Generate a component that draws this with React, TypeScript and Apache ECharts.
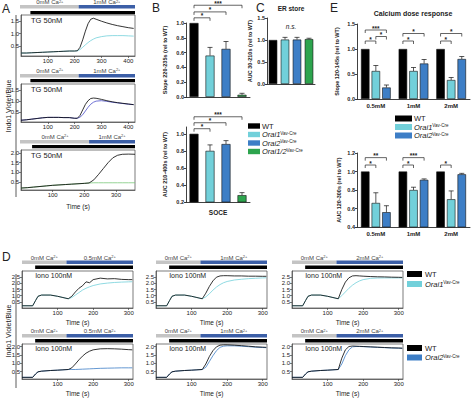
import React, { useEffect, useRef } from "react";
import * as echarts from "echarts";

const FONT = "'Liberation Sans', Arial, Helvetica, sans-serif";
const INK = "#222222";
const COL_WT = "#000000";
const COL_O1 = "#72d0da";
const COL_O2 = "#3d7ec6";
const COL_O12 = "#2da44e";
const COL_O2_TRACE_A = "#4b4fc9";
const COL_O12_TRACE = "#7cc97c";
const COL_CA0 = "#c4c4c4";
const COL_CA1 = "#3c5fa7";

// ---------- Panel A traces ----------
const tA = [0, 20, 40, 60, 80, 100, 120, 140, 160, 180, 200, 210, 220, 230, 240, 250, 260, 270, 280, 300, 320, 340, 360, 380, 400, 420];
const a1WT = [0.22, 0.22, 0.23, 0.24, 0.25, 0.26, 0.27, 0.28, 0.29, 0.3, 0.3, 0.31, 0.45, 0.75, 1.1, 1.4, 1.58, 1.62, 1.58, 1.5, 1.43, 1.37, 1.32, 1.28, 1.24, 1.21];
const a1O1 = [0.22, 0.22, 0.23, 0.24, 0.25, 0.26, 0.27, 0.28, 0.29, 0.3, 0.3, 0.31, 0.36, 0.45, 0.55, 0.64, 0.72, 0.78, 0.83, 0.88, 0.91, 0.92, 0.92, 0.92, 0.91, 0.9];
const a2WT = [0.13, 0.15, 0.18, 0.21, 0.24, 0.26, 0.26, 0.26, 0.25, 0.25, 0.22, 0.22, 0.35, 0.6, 0.85, 1.02, 1.12, 1.14, 1.13, 1.08, 1.02, 0.97, 0.93, 0.9, 0.87, 0.84];
const a2O2 = [0.13, 0.15, 0.18, 0.21, 0.24, 0.26, 0.26, 0.26, 0.25, 0.25, 0.22, 0.22, 0.27, 0.38, 0.55, 0.72, 0.86, 0.95, 1.0, 1.02, 0.99, 0.95, 0.92, 0.89, 0.86, 0.84];
const tA3 = [0, 20, 40, 60, 80, 100, 120, 140, 160, 180, 200, 215, 230, 245, 260, 275, 290, 305, 320, 340, 360];
const a3WT = [0.2, 0.22, 0.25, 0.28, 0.31, 0.34, 0.36, 0.38, 0.4, 0.42, 0.44, 0.46, 0.62, 0.9, 1.2, 1.5, 1.75, 1.88, 1.93, 1.94, 1.93];
const a3O12 = [0.2, 0.22, 0.25, 0.28, 0.31, 0.34, 0.36, 0.38, 0.4, 0.42, 0.44, 0.46, 0.47, 0.47, 0.47, 0.47, 0.47, 0.47, 0.47, 0.47, 0.47];

// ---------- Panel D traces ----------
const tD = [0, 30, 38, 45, 55, 80, 100, 115, 130, 140, 150, 160, 170, 180, 190, 200, 220, 240, 260, 280, 300, 310];
const d11WT = [0.18, 0.18, 0.6, 0.95, 1.05, 1.05, 0.95, 0.85, 0.75, 0.95, 1.3, 1.6, 1.8, 2.12, 2.05, 2.3, 2.42, 2.36, 2.38, 2.32, 2.3, 2.3];
const d11O1 = [0.18, 0.18, 0.6, 0.95, 1.05, 1.05, 0.95, 0.85, 0.75, 0.85, 1.05, 1.25, 1.45, 1.6, 1.72, 1.82, 1.95, 2.02, 2.07, 2.1, 2.12, 2.13];
const d12WT = [0.18, 0.18, 0.6, 0.95, 1.05, 1.05, 0.95, 0.85, 0.75, 1.2, 1.75, 2.2, 2.5, 2.6, 2.62, 2.62, 2.6, 2.6, 2.58, 2.58, 2.57, 2.57];
const d12O1 = [0.18, 0.18, 0.6, 0.95, 1.05, 1.05, 0.95, 0.85, 0.75, 0.9, 1.15, 1.45, 1.7, 1.9, 2.05, 2.15, 2.27, 2.33, 2.38, 2.41, 2.44, 2.45];
const d13WT = [0.18, 0.18, 0.6, 0.95, 1.05, 1.05, 0.95, 0.85, 0.75, 1.5, 2.1, 2.45, 2.6, 2.62, 2.6, 2.58, 2.55, 2.53, 2.52, 2.5, 2.49, 2.48];
const d13O1 = [0.18, 0.18, 0.6, 0.95, 1.05, 1.05, 0.95, 0.85, 0.75, 1.0, 1.3, 1.6, 1.85, 2.05, 2.2, 2.3, 2.4, 2.43, 2.44, 2.44, 2.44, 2.44];
const d21WT = [0.15, 0.15, 0.35, 0.48, 0.52, 0.56, 0.58, 0.6, 0.62, 0.72, 0.95, 1.2, 1.42, 1.6, 1.72, 1.8, 1.86, 1.87, 1.86, 1.84, 1.81, 1.8];
const d21O2 = [0.15, 0.15, 0.35, 0.48, 0.52, 0.56, 0.58, 0.6, 0.62, 0.62, 0.62, 0.63, 0.64, 0.65, 0.66, 0.67, 0.69, 0.7, 0.71, 0.72, 0.72, 0.72];
const d22WT = [0.15, 0.15, 0.35, 0.48, 0.52, 0.56, 0.58, 0.6, 0.62, 0.95, 1.4, 1.75, 1.98, 2.08, 2.1, 2.1, 2.08, 2.05, 2.02, 1.98, 1.96, 1.95];
const d22O2 = [0.15, 0.15, 0.35, 0.48, 0.52, 0.56, 0.58, 0.6, 0.62, 0.75, 1.1, 1.45, 1.75, 1.95, 2.02, 2.04, 2.04, 2.02, 1.99, 1.96, 1.94, 1.93];
const d23WT = [0.15, 0.15, 0.35, 0.48, 0.52, 0.56, 0.58, 0.6, 0.62, 1.3, 1.8, 2.0, 2.03, 2.02, 2.01, 2.0, 1.98, 1.96, 1.94, 1.92, 1.91, 1.9];
const d23O2 = [0.15, 0.15, 0.35, 0.48, 0.52, 0.56, 0.58, 0.6, 0.62, 0.95, 1.45, 1.8, 1.98, 2.0, 2.0, 1.99, 1.97, 1.95, 1.93, 1.91, 1.9, 1.89];

// ---------- Bars ----------
const genotypes = ["WT", "Orai1", "Orai2", "Orai1/2"];
const b1Val = [1.0, 0.56, 0.65, 0.03];
const b1Err = [0, 0.11, 0.1, 0.02];
const b2Val = [1.0, 0.8, 0.88, 0.28];
const b2Err = [0, 0.07, 0.04, 0.03];
const cVal = [1.0, 1.01, 1.01, 1.02];
const cErr = [0, 0.05, 0.05, 0.02];

const doses = ["0.5mM", "1mM", "2mM"];
const e1WT = [1.0, 1.0, 1.0];
const e1O1 = [0.56, 0.56, 0.38];
const e1O1Err = [0.11, 0.07, 0.05];
const e1O2 = [0.23, 0.71, 0.8];
const e1O2Err = [0.05, 0.08, 0.05];
const e2WT = [1.0, 1.0, 1.0];
const e2O1 = [0.66, 0.8, 0.7];
const e2O1Err = [0.11, 0.03, 0.09];
const e2O2 = [0.56, 0.91, 0.97];
const e2O2Err = [0.07, 0.01, 0.01];

// significance brackets: [barA, barB, yValue, label]
const bracketsB1 = [[0, 1, 1.07, "*"], [0, 2, 1.15, "*"], [0, 3, 1.24, "***"]];
const bracketsB2 = [[0, 1, 1.06, "*"], [0, 2, 1.13, "*"], [0, 3, 1.2, "***"]];
// [dose, barA, barB, yValue, label]
const bracketsE1 = [[0, 0, 1, 1.16, "*"], [0, 1, 2, 1.25, "*"], [0, 0, 2, 1.38, "***"], [1, 0, 1, 1.16, "*"], [1, 0, 2, 1.31, "*"], [2, 0, 1, 1.16, "*"], [2, 0, 2, 1.31, "*"]];
const bracketsE2 = [[0, 0, 1, 1.07, "*"], [0, 0, 2, 1.15, "**"], [1, 0, 1, 1.07, "*"], [1, 0, 2, 1.15, "***"], [2, 0, 1, 1.07, "*"]];

// ticks
const aXTicks = [100, 200, 300, 400];
const a3XTicks = [100, 200, 300];
const dXTicks = [100, 200, 300];
const aYTicks = [0.5, 1.0, 1.5];
const a3YTicks = [0.5, 1.0, 1.5, 2.0];
const dRow1YTicks = [0.5, 1.0, 1.5, 2.0, 2.5];
const dRow2YTicks = [0.5, 1.0, 1.5, 2.0];

const caSwitchA = 215;
const tgStartA = 35;
const caSwitchD = 125;
const ionoStartD = 37;

const genoColors = [COL_WT, COL_O1, COL_O2, COL_O12];
const BW_E = 8.5;
const GAP_E = 2.1;
const eOff = [-(BW_E + GAP_E), 0, BW_E + GAP_E];

function pairs(t: number[], v: number[]) {
  return t.map((x, i) => [x, v[i]]);
}

const grids: any[] = [
  { left: 21, top: 15, width: 114, height: 41 }, // 0 A1
  { left: 21, top: 84, width: 114, height: 38 }, // 1 A2
  { left: 21, top: 150, width: 114, height: 40 }, // 2 A3
  { left: 186, top: 23, width: 64, height: 74 }, // 3 B1
  { left: 186, top: 127, width: 64, height: 75 }, // 4 B2
  { left: 267, top: 18, width: 48, height: 66 }, // 5 C
  { left: 357, top: 24, width: 113, height: 75 }, // 6 E1
  { left: 357, top: 153, width: 113, height: 74 }, // 7 E2
  { left: 22, top: 271, width: 111, height: 37 }, // 8 D11
  { left: 156, top: 271, width: 111, height: 37 }, // 9 D12
  { left: 292, top: 271, width: 111, height: 37 }, // 10 D13
  { left: 22, top: 344, width: 111, height: 37 }, // 11 D21
  { left: 156, top: 344, width: 111, height: 37 }, // 12 D22
  { left: 292, top: 344, width: 111, height: 37 }, // 13 D23
];
const traceGrids = [0, 1, 2, 8, 9, 10, 11, 12, 13];
const traceMax: Record<number, number> = { 0: 425, 1: 425, 2: 360, 8: 312, 9: 312, 10: 312, 11: 312, 12: 312, 13: 312 };

const lineStyleAxis = { color: "#444", width: 0.7 };

function traceX(gi: number, ticks: number[], name: string, nameGap: number) {
  return {
    type: "value", gridIndex: gi, min: 0, max: traceMax[gi],
    axisLine: { show: true, onZero: false, lineStyle: lineStyleAxis },
    axisTick: { show: true, length: 2, customValues: ticks, lineStyle: lineStyleAxis },
    axisLabel: { show: true, customValues: ticks, fontSize: 6, color: INK, fontFamily: FONT, margin: 1.5 },
    splitLine: { show: false },
    name, nameLocation: "middle", nameGap,
    nameTextStyle: { fontSize: 6.5, color: INK, fontFamily: FONT },
  };
}
function traceY(gi: number, min: number, max: number, ticks: number[]) {
  return {
    type: "value", gridIndex: gi, min, max,
    axisLine: { show: true, onZero: false, lineStyle: lineStyleAxis },
    axisTick: { show: true, length: 2, customValues: ticks, lineStyle: lineStyleAxis },
    axisLabel: { show: true, customValues: ticks, fontSize: 6, color: INK, fontFamily: FONT, margin: 2, formatter: (v: number) => v.toFixed(1) },
    splitLine: { show: false },
  };
}
function catX(gi: number, data: string[], showLabel: boolean) {
  return {
    type: "category", gridIndex: gi, data,
    axisLine: { show: true, lineStyle: { color: "#111", width: 0.8 } },
    axisTick: { show: false },
    axisLabel: { show: showLabel, fontSize: 6, fontWeight: "bold", color: INK, fontFamily: FONT, margin: 4 },
    splitLine: { show: false },
  };
}
function barY(gi: number, min: number, max: number, ticks: number[], name: string, nameGap: number) {
  return {
    type: "value", gridIndex: gi, min, max,
    axisLine: { show: true, onZero: false, lineStyle: { color: "#111", width: 0.8 } },
    axisTick: { show: true, length: 2, customValues: ticks, lineStyle: { color: "#111", width: 0.8 } },
    axisLabel: { show: true, customValues: ticks, fontSize: 5.5, fontWeight: "bold", color: INK, fontFamily: FONT, margin: 2, formatter: (v: number) => v.toFixed(1) },
    splitLine: { show: false },
    name, nameLocation: "middle", nameGap,
    nameTextStyle: { fontSize: 5.5, fontWeight: "bold", color: INK, fontFamily: FONT },
  };
}

function lineSeries(gi: number, t: number[], v: number[], color: string, z = 2) {
  return {
    type: "line", xAxisIndex: gi, yAxisIndex: gi, data: pairs(t, v), showSymbol: false,
    lineStyle: { color, width: 0.8 }, z, silent: true,
  };
}

function errSeries(gi: number, vals: number[], errs: number[], offset: number) {
  return {
    type: "custom", xAxisIndex: gi, yAxisIndex: gi, z: 5, silent: true, clip: false,
    data: vals.map((v, i) => [i, v, errs[i]]),
    renderItem: (params: any, api: any) => {
      const i = api.value(0);
      const v = api.value(1);
      const e = api.value(2);
      if (!e) return null;
      const p0 = api.coord([i, v]);
      const p1 = api.coord([i, v + e]);
      const x = p0[0] + offset;
      return {
        type: "group",
        children: [
          { type: "line", shape: { x1: x, y1: p0[1], x2: x, y2: p1[1] }, style: { stroke: "#111", lineWidth: 0.7 } },
          { type: "line", shape: { x1: x - 2.5, y1: p1[1], x2: x + 2.5, y2: p1[1] }, style: { stroke: "#111", lineWidth: 0.7 } },
        ],
      };
    },
  };
}

function genoBar(gi: number, vals: number[], bw: number) {
  return {
    type: "bar", xAxisIndex: gi, yAxisIndex: gi, barWidth: bw, silent: true,
    data: vals.map((v, i) => ({ value: v, itemStyle: { color: genoColors[i] } })),
    itemStyle: { borderColor: "#111", borderWidth: 0.6 },
  };
}
function doseBar(gi: number, vals: number[], color: string) {
  return {
    type: "bar", xAxisIndex: gi, yAxisIndex: gi, barWidth: BW_E, barGap: (GAP_E / BW_E * 100).toFixed(1) + "%", silent: true,
    data: vals, itemStyle: { color, borderColor: "#111", borderWidth: 0.6 },
  };
}

function buildOption() {
  const grid = grids.map((g, i) => ({
    ...g,
    show: traceGrids.includes(i),
    borderColor: "#444",
    borderWidth: 0.7,
  }));
  const xAxis = [
    traceX(0, aXTicks, "", 0),
    traceX(1, aXTicks, "", 0),
    traceX(2, a3XTicks, "Time (s)", 13),
    catX(3, genotypes, false),
    catX(4, genotypes, false),
    catX(5, genotypes, false),
    catX(6, doses, true),
    catX(7, doses, true),
    traceX(8, dXTicks, "Time (s)", 11),
    traceX(9, dXTicks, "Time (s)", 11),
    traceX(10, dXTicks, "Time (s)", 11),
    traceX(11, dXTicks, "Time (s)", 11),
    traceX(12, dXTicks, "Time (s)", 11),
    traceX(13, dXTicks, "Time (s)", 11),
  ];
  const yAxis = [
    traceY(0, 0.1, 1.75, aYTicks),
    traceY(1, 0.05, 1.78, aYTicks),
    traceY(2, 0.1, 2.15, a3YTicks),
    barY(3, 0, 1.0, [0, 0.2, 0.4, 0.6, 0.8, 1.0], "Slope 220-235s (rel to WT)", 18),
    barY(4, 0.2, 1.08, [0.2, 0.4, 0.6, 0.8, 1.0], "AUC 210-400s (rel to WT)", 18),
    barY(5, 0, 1.5, [0, 0.5, 1.0, 1.5], "AUC 30-210s (rel to WT)", 14),
    barY(6, 0, 1.5, [0, 0.5, 1.0, 1.5], "Slope 120-145s (rel to WT)", 17),
    barY(7, 0.4, 1.2, [0.4, 0.6, 0.8, 1.0, 1.2], "AUC 120-300s (rel to WT)", 15),
    traceY(8, 0, 3, dRow1YTicks),
    traceY(9, 0, 3, dRow1YTicks),
    traceY(10, 0, 3, dRow1YTicks),
    traceY(11, 0.05, 2.15, dRow2YTicks),
    traceY(12, 0.05, 2.15, dRow2YTicks),
    traceY(13, 0.05, 2.15, dRow2YTicks),
  ];
  const series: any[] = [
    lineSeries(0, tA, a1O1, COL_O1, 2),
    lineSeries(0, tA, a1WT, COL_WT, 3),
    lineSeries(1, tA, a2O2, COL_O2_TRACE_A, 2),
    lineSeries(1, tA, a2WT, COL_WT, 3),
    lineSeries(2, tA3, a3O12, COL_O12_TRACE, 2),
    lineSeries(2, tA3, a3WT, COL_WT, 3),
    genoBar(3, b1Val, 9),
    errSeries(3, b1Val, b1Err, 0),
    genoBar(4, b2Val, 9),
    errSeries(4, b2Val, b2Err, 0),
    genoBar(5, cVal, 8.5),
    errSeries(5, cVal, cErr, 0),
    doseBar(6, e1WT, COL_WT),
    doseBar(6, e1O1, COL_O1),
    doseBar(6, e1O2, COL_O2),
    errSeries(6, e1O1, e1O1Err, eOff[1]),
    errSeries(6, e1O2, e1O2Err, eOff[2]),
    doseBar(7, e2WT, COL_WT),
    doseBar(7, e2O1, COL_O1),
    doseBar(7, e2O2, COL_O2),
    errSeries(7, e2O1, e2O1Err, eOff[1]),
    errSeries(7, e2O2, e2O2Err, eOff[2]),
    lineSeries(8, tD, d11O1, COL_O1, 2),
    lineSeries(8, tD, d11WT, COL_WT, 3),
    lineSeries(9, tD, d12O1, COL_O1, 2),
    lineSeries(9, tD, d12WT, COL_WT, 3),
    lineSeries(10, tD, d13O1, COL_O1, 2),
    lineSeries(10, tD, d13WT, COL_WT, 3),
    lineSeries(11, tD, d21O2, COL_O2, 2),
    lineSeries(11, tD, d21WT, COL_WT, 3),
    lineSeries(12, tD, d22O2, COL_O2, 2),
    lineSeries(12, tD, d22WT, COL_WT, 3),
    lineSeries(13, tD, d23O2, COL_O2, 2),
    lineSeries(13, tD, d23WT, COL_WT, 3),
  ];
  return {
    animation: false,
    backgroundColor: "#ffffff",
    textStyle: { fontFamily: FONT },
    grid, xAxis, yAxis, series,
  };
}

const RICH_SMALL = {
  s: { fontSize: 4, fill: "#444", fontFamily: FONT, verticalAlign: "top" },
};
const RICH_LEG = {
  i: { fontSize: 7.5, fontStyle: "italic", fill: INK, fontFamily: FONT },
  s: { fontSize: 4.5, fill: INK, fontFamily: FONT, verticalAlign: "top" },
};

function txt(x: number, y: number, s: string, o: any = {}) {
  const style: any = {
    text: s, fontSize: o.size || 7, fontFamily: FONT, fill: o.color || INK,
    align: o.align || "left", verticalAlign: o.va || "middle",
    fontWeight: o.weight || "normal", fontStyle: o.fstyle || "normal",
  };
  if (o.rich) style.rich = o.rich;
  return { type: "text", x, y, silent: true, rotation: o.rot || 0, z: 10, style };
}
function rect(x: number, y: number, w: number, h: number, fill: string) {
  return { type: "rect", silent: true, z: 10, shape: { x, y, width: w, height: h }, style: { fill } };
}
function seg(x1: number, y1: number, x2: number, y2: number, w = 0.8, color = "#333") {
  return { type: "line", silent: true, z: 10, shape: { x1, y1, x2, y2 }, style: { stroke: color, lineWidth: w } };
}

function buildGraphics(chart: any) {
  const els: any[] = [];
  const xp = (ax: number, v: number) => chart.convertToPixel({ xAxisIndex: ax }, v);
  const pt = (ax: number, c: number, v: number) => chart.convertToPixel({ xAxisIndex: ax, yAxisIndex: ax }, [c, v]);

  // panel letters
  els.push(txt(2, 9, "A", { size: 12 }));
  els.push(txt(152, 8, "B", { size: 12 }));
  els.push(txt(256, 8, "C", { size: 12 }));
  els.push(txt(2, 257, "D", { size: 12 }));
  els.push(txt(330, 8, "E", { size: 12 }));

  // Panel A stimulus bars
  const aCa = [{ ax: 0, ty: 2, by: 5, ky: 11 }, { ax: 1, ty: 70.5, by: 74, ky: 79 }, { ax: 2, ty: 136.5, by: 140, ky: 145 }];
  aCa.forEach((c) => {
    const x0 = xp(c.ax, 0);
    const xs = xp(c.ax, caSwitchA);
    const x1 = xp(c.ax, traceMax[c.ax]);
    const xk = xp(c.ax, tgStartA);
    els.push(rect(x0 - 1, c.by, xs - x0 + 1, 3.5, COL_CA0));
    els.push(rect(xs, c.by, x1 - xs, 3.5, COL_CA1));
    els.push(rect(xk, c.ky, x1 - xk, 3.2, "#000"));
    els.push(txt((x0 + xs) / 2, c.ty, "0mM Ca{s|2+}", { size: 6, color: "#444", align: "center", rich: RICH_SMALL }));
    els.push(txt((xs + x1) / 2, c.ty, "1mM Ca{s|2+}", { size: 6, color: "#444", align: "center", rich: RICH_SMALL }));
    els.push(txt(x0 + 10, grids[c.ax].top + 5, "TG 50nM", { size: 7.5 }));
  });
  els.push(seg(16, 15, 16, 197, 0.8));
  els.push(txt(8, 106, "Indo1 Violet/Blue", { size: 7, align: "center", rot: Math.PI / 2 }));

  // Panel D stimulus bars
  const dRows = [{ ty: 257.5, by: 260.5, ky: 265.5 }, { ty: 331, by: 334, ky: 339 }];
  [8, 9, 10, 11, 12, 13].forEach((ax, k) => {
    const r = dRows[k < 3 ? 0 : 1];
    const conc = doses[k % 3];
    const x0 = xp(ax, 0);
    const xs = xp(ax, caSwitchD);
    const x1 = xp(ax, traceMax[ax]);
    const xk = xp(ax, ionoStartD);
    els.push(rect(x0, r.by, xs - x0, 3.6, COL_CA0));
    els.push(rect(xs, r.by, x1 - xs, 3.6, COL_CA1));
    els.push(rect(xk, r.ky, x1 - xk, 3.6, "#000"));
    els.push(txt((x0 + xs) / 2, r.ty, "0mM Ca{s|2+}", { size: 6, color: "#444", align: "center", rich: RICH_SMALL }));
    els.push(txt((xs + x1) / 2, r.ty, conc + " Ca{s|2+}", { size: 6, color: "#444", align: "center", rich: RICH_SMALL }));
    els.push(txt(xk, grids[ax].top + 4.5, "Iono 100nM", { size: 7, color: "#222" }));
  });
  els.push(seg(16, 274, 16, 388, 0.8));
  els.push(txt(8, 331, "Indo1 Violet/Blue", { size: 7, align: "center", rot: Math.PI / 2 }));

  // D legends
  const dLeg = [
    { y: [274, 284], label: "Orai1", col: COL_O1 },
    { y: [348, 357.5], label: "Orai2", col: COL_O2 },
  ];
  dLeg.forEach((L) => {
    els.push(rect(407, L.y[0] - 3, 15, 6, COL_WT));
    els.push(txt(425, L.y[0], "WT", { size: 7.5 }));
    els.push(rect(407, L.y[1] - 3, 15, 6, L.col));
    els.push(txt(425, L.y[1], "{i|" + L.label + "}{s|Vav-Cre}", { size: 7.5, rich: RICH_LEG }));
  });

  // B/C legend
  const bcRows = [126, 134.5, 143, 151.5];
  const bcLabels = ["WT", "{i|Orai1}{s|Vav-Cre}", "{i|Orai2}{s|Vav-Cre}", "{i|Orai1/2}{s|Vav-Cre}"];
  bcRows.forEach((y, i) => {
    els.push(rect(248, y - 2.7, 12, 5.4, genoColors[i]));
    els.push(txt(262, y, bcLabels[i], { size: 7.5, rich: RICH_LEG }));
  });

  // E legend
  const eRows = [118.5, 127, 135.5];
  const eCols = [COL_WT, COL_O1, COL_O2];
  const eLabels = ["WT", "{i|Orai1}{s|Vav-Cre}", "{i|Orai2}{s|Vav-Cre}"];
  eRows.forEach((y, i) => {
    els.push(rect(395, y - 3, 17, 6, eCols[i]));
    els.push(txt(414, y, eLabels[i], { size: 7.5, rich: RICH_LEG }));
  });

  // titles
  els.push(txt(291, 8, "ER store", { size: 6.5, weight: "bold", align: "center" }));
  els.push(txt(291, 26, "n.s.", { size: 6.5, fstyle: "italic", align: "center" }));
  els.push(txt(413, 13, "Calcium dose response", { size: 7, weight: "bold", align: "center" }));
  els.push(txt(218, 212, "SOCE", { size: 6.5, weight: "bold", align: "center" }));

  // brackets
  const bracket = (xa: number, xb: number, y: number, label: string) => {
    els.push({
      type: "polyline", silent: true, z: 10,
      shape: { points: [[xa, y + 3], [xa, y], [xb, y], [xb, y + 3]] },
      style: { stroke: "#222", lineWidth: 0.7, fill: null },
    });
    els.push(txt((xa + xb) / 2, y + 1.5, label, { size: 6.5, align: "center", va: "bottom", weight: "bold" }));
  };
  bracketsB1.forEach((b: any) => {
    const p1 = pt(3, b[0], b[2]);
    const p2 = pt(3, b[1], b[2]);
    bracket(p1[0], p2[0], p1[1], b[3]);
  });
  bracketsB2.forEach((b: any) => {
    const p1 = pt(4, b[0], b[2]);
    const p2 = pt(4, b[1], b[2]);
    bracket(p1[0], p2[0], p1[1], b[3]);
  });
  bracketsE1.forEach((b: any) => {
    const p = pt(6, b[0], b[3]);
    bracket(p[0] + eOff[b[1]], p[0] + eOff[b[2]], p[1], b[4]);
  });
  bracketsE2.forEach((b: any) => {
    const p = pt(7, b[0], b[3]);
    bracket(p[0] + eOff[b[1]], p[0] + eOff[b[2]], p[1], b[4]);
  });

  return els;
}

export default function App() {
  const ref = useRef<HTMLDivElement>(null);
  useEffect(() => {
    const chart = echarts.init(ref.current!, null, { renderer: "svg" });
    chart.setOption(buildOption() as any);
    chart.setOption({ graphic: { elements: buildGraphics(chart) } } as any);
    return () => chart.dispose();
  }, []);
  return <div ref={ref} style={{ position: "absolute", left: 0, top: 0, width: 474, height: 398 }} />;
}
